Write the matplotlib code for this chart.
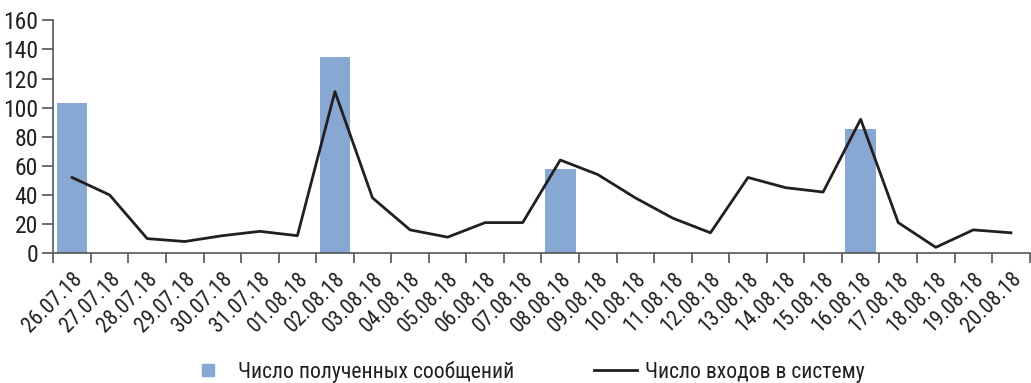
import matplotlib
matplotlib.use("Agg")
import matplotlib.pyplot as plt
from matplotlib.lines import Line2D
from matplotlib.ticker import FixedLocator

plt.rcParams['font.family'] = ['Roboto Condensed', 'DejaVu Sans']

dates = ["26.07.18", "27.07.18", "28.07.18", "29.07.18", "30.07.18", "31.07.18",
         "01.08.18", "02.08.18", "03.08.18", "04.08.18", "05.08.18", "06.08.18",
         "07.08.18", "08.08.18", "09.08.18", "10.08.18", "11.08.18", "12.08.18",
         "13.08.18", "14.08.18", "15.08.18", "16.08.18", "17.08.18", "18.08.18",
         "19.08.18", "20.08.18"]
# сообщения (только дни с рассылкой)
messages = [103, 0, 0, 0, 0, 0, 0, 135, 0, 0, 0, 0, 0, 58, 0, 0, 0, 0,
            0, 0, 0, 85, 0, 0, 0, 0]
logins = [52, 40, 10, 8, 12, 15, 12, 111, 38, 16, 11, 21, 21, 64, 54, 38,
          24, 14, 52, 45, 42, 92, 21, 4, 16, 14]

bar_color = "#86a8d3"
ink = "#231f20"
axis_color = "#555555"

fig = plt.figure(figsize=(10.31, 3.83), dpi=100)
ax = fig.add_axes([0.0517, 0.339, 0.947, 0.608])

x = range(len(dates))
ax.bar(x, messages, width=0.82, color=bar_color, zorder=2)
ax.plot(x, logins, color=ink, lw=2.0, zorder=3)

ax.set_xlim(-0.5, len(dates) - 0.5)
ax.set_ylim(0, 160)
ax.set_yticks(range(0, 161, 20))

ax.set_xticks(list(x))
ax.set_xticklabels(dates, rotation=45, ha="right", rotation_mode="anchor",
                   fontsize=15.5, color=ink)
ax.xaxis.set_minor_locator(FixedLocator([i - 0.5 for i in range(len(dates) + 1)]))
ax.tick_params(axis="x", which="major", length=0, pad=11)
ax.tick_params(axis="x", which="minor", length=7, width=1.2, color=axis_color, direction="out")
ax.tick_params(axis="y", length=8, width=1.2, color=axis_color, labelsize=17,
               labelcolor=ink, pad=3)

for side in ("top", "right"):
    ax.spines[side].set_visible(False)
for side in ("left", "bottom"):
    ax.spines[side].set_color(axis_color)
    ax.spines[side].set_linewidth(1.2)

# легенда: квадрат для столбцов, отрезок для линии
bar_handle = Line2D([], [], ls="", marker="s", markersize=9, color=bar_color)
line_handle = Line2D([], [], color=ink, lw=2.0)
fig.legend([bar_handle, line_handle],
           ["Число полученных сообщений", "Число входов в систему"],
           loc="center", bbox_to_anchor=(0.51, 0.03), ncol=2, frameon=False,
           fontsize=15.6, handlelength=2.0, handletextpad=0.37,
           columnspacing=3.7, labelcolor=ink)

fig.savefig("out.png", dpi=100)
